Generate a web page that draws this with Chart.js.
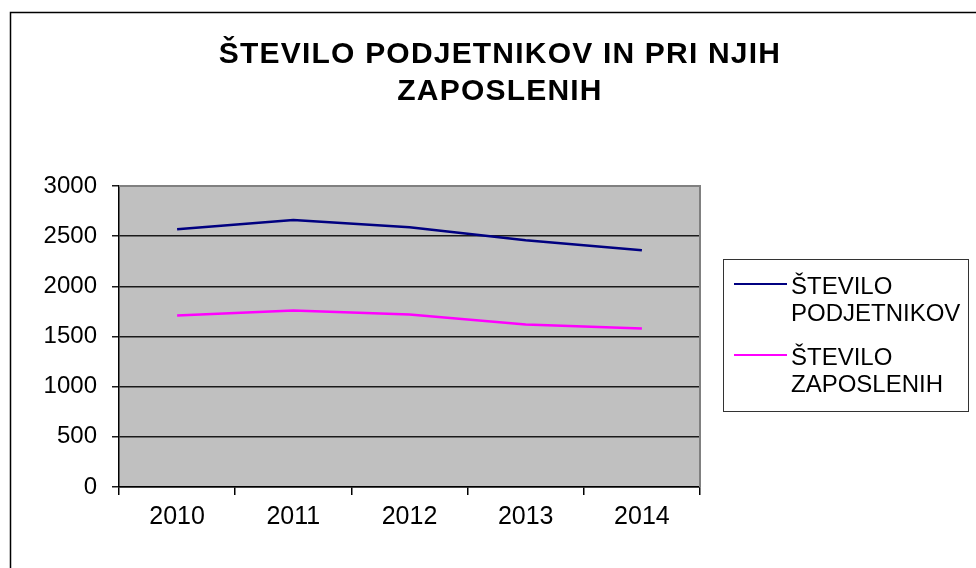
<!DOCTYPE html>
<html>
<head>
<meta charset="utf-8">
<script src="https://cdn.jsdelivr.net/npm/chart.js@4"></script>
<style>
  html, body { margin: 0; padding: 0; background: #fff; }
  #wrap { width: 976px; height: 568px; }
</style>
</head>
<body>
<div id="wrap"><canvas id="chart" width="976" height="568"></canvas></div>
<script>
// Data
const years = ['2010', '2011', '2012', '2013', '2014'];
const podjetniki = [2570, 2660, 2590, 2460, 2360];
const zaposleni = [1710, 1760, 1720, 1620, 1580];
const titleLines = ['ŠTEVILO PODJETNIKOV IN PRI NJIH', 'ZAPOSLENIH'];
const legendLines = [['ŠTEVILO', 'PODJETNIKOV'], ['ŠTEVILO', 'ZAPOSLENIH']];

const FONT = '"Liberation Sans", Arial, sans-serif';

// Background, plot frame, title and the boxed legend
const framePlugin = {
  id: 'frame',
  beforeDraw(chart) {
    const { ctx, chartArea: a } = chart;
    ctx.save();
    ctx.fillStyle = '#fff';
    ctx.fillRect(0, 0, chart.width, chart.height);
    ctx.strokeStyle = '#000';
    ctx.lineWidth = 1.5;
    ctx.strokeRect(10.5, 12.5, 1000, 1000);
    ctx.fillStyle = '#c0c0c0';
    ctx.fillRect(a.left, a.top, a.right - a.left, a.bottom - a.top);
    ctx.restore();
  },
  afterDraw(chart) {
    const { ctx, chartArea: a } = chart;
    ctx.save();
    // gray frame on top and right of the plot
    ctx.strokeStyle = '#808080';
    ctx.lineWidth = 2;
    ctx.beginPath();
    ctx.moveTo(a.left, a.top);
    ctx.lineTo(a.right, a.top);
    ctx.lineTo(a.right, a.bottom);
    ctx.stroke();

    // title
    ctx.fillStyle = '#000';
    ctx.textAlign = 'center';
    ctx.textBaseline = 'alphabetic';
    ctx.font = 'bold 30px ' + FONT;
    ctx.letterSpacing = '1.2px';
    titleLines.forEach((t, i) => ctx.fillText(t, 500, 63 + i * 37));
    ctx.letterSpacing = '0px';

    // legend
    ctx.strokeStyle = '#333';
    ctx.lineWidth = 1;
    ctx.strokeRect(723.5, 259.5, 245, 152);
    ctx.textAlign = 'left';
    ctx.font = '24px ' + FONT;
    chart.data.datasets.forEach((ds, i) => {
      const base = 294 + i * 71;
      ctx.strokeStyle = ds.borderColor;
      ctx.lineWidth = 2;
      ctx.beginPath();
      ctx.moveTo(734, base - 10);
      ctx.lineTo(787, base - 10);
      ctx.stroke();
      ctx.fillStyle = '#000';
      legendLines[i].forEach((t, j) => ctx.fillText(t, 791, base + j * 27));
    });
    ctx.restore();
  }
};

new Chart(document.getElementById('chart'), {
  type: 'line',
  data: {
    labels: years,
    datasets: [
      {
        label: legendLines[0].join(' '),
        data: podjetniki,
        borderColor: '#000080',
        borderWidth: 2.5,
        pointRadius: 0,
        tension: 0
      },
      {
        label: legendLines[1].join(' '),
        data: zaposleni,
        borderColor: '#ff00ff',
        borderWidth: 2.5,
        pointRadius: 0,
        tension: 0
      }
    ]
  },
  options: {
    responsive: false,
    animation: false,
    devicePixelRatio: 1,
    layout: { padding: { left: 0, top: 186, right: 276, bottom: 0 } },
    plugins: {
      legend: { display: false },
      title: { display: false },
      tooltip: { enabled: false }
    },
    scales: {
      x: {
        offset: true,
        grid: { offset: true, drawOnChartArea: false, color: '#000', lineWidth: 1.5, tickLength: 8 },
        border: { color: '#000', width: 1.5 },
        ticks: { color: '#000', font: { family: FONT, size: 25 }, padding: 7, maxRotation: 0 },
        afterFit(scale) { scale.height = 81; }
      },
      y: {
        min: 0,
        max: 3000,
        ticks: {
          stepSize: 500,
          color: '#000',
          font: { family: FONT, size: 24 },
          padding: 15,
          callback: v => String(v)
        },
        grid: { color: '#1a1a1a', lineWidth: 1.5, tickLength: 7 },
        border: { color: '#000', width: 1.5 },
        afterFit(scale) { scale.width = 119; }
      }
    }
  },
  plugins: [framePlugin]
});
</script>
</body>
</html>
